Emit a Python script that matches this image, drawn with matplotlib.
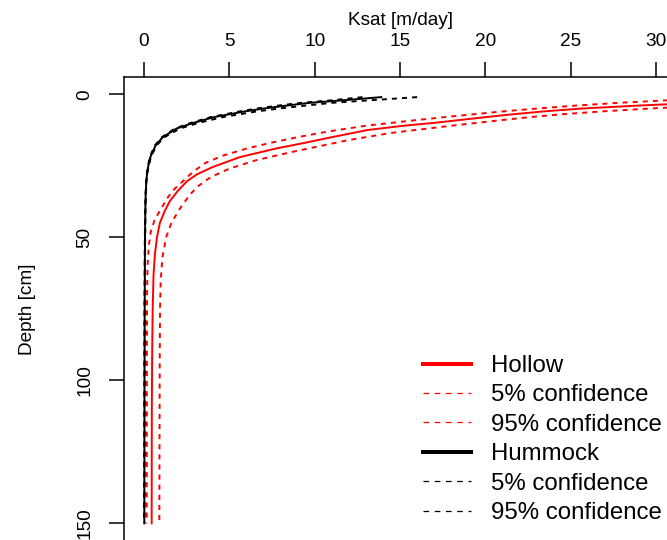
import numpy as np
import matplotlib
matplotlib.use("Agg")
import matplotlib.pyplot as plt
from matplotlib.lines import Line2D

plt.rcParams['font.family'] = ['Liberation Sans', 'DejaVu Sans']

# --- values (depth [cm], Ksat [m/day]) ---
hollow_depth = [1, 2, 3, 4, 5, 6, 7, 8, 9, 10, 11, 12.5, 15, 17, 19, 22, 25.5, 28, 30.5,
                34, 37.5, 41, 45, 50, 56, 63, 75, 90, 110, 130, 150]
hollow_k = [42, 36, 32.5, 28.8, 25.6, 23.4, 21.6, 20.0, 18.5, 17.0, 15.2, 13.1, 11.0, 9.4, 7.7,
            5.6, 4.0, 3.1, 2.5, 1.95, 1.5, 1.2, 0.93, 0.76, 0.64, 0.56, 0.51, 0.48, 0.46, 0.455, 0.45]

hollow_lo_depth = [1, 2, 3, 4, 5, 6, 7, 8, 9, 10, 11, 13, 15, 17, 19, 21.5, 24, 27, 30,
                   33, 36, 40, 44, 48, 53, 60, 70, 90, 120, 150]
hollow_lo_k = [36, 31, 27.8, 25.2, 23.0, 21.0, 19.3, 17.6, 16.0, 14.5, 13.0, 10.8, 9.0, 7.4, 6.0,
               4.6, 3.6, 2.9, 2.35, 1.8, 1.4, 1.0, 0.62, 0.4, 0.28, 0.21, 0.18, 0.17, 0.165, 0.16]

hollow_hi_depth = [1, 2, 3, 4, 5, 6, 7, 8, 9, 10, 11, 12, 13.5, 16, 18, 20, 23, 26, 29,
                   32, 35, 40, 45, 50, 57, 65, 75, 95, 120, 150]
hollow_hi_k = [50, 42, 37, 33, 29.6, 26.8, 24.5, 22.6, 21.0, 19.5, 18.0, 16.6, 14.5, 12.0, 10.4,
               8.8, 6.6, 5.0, 3.9, 3.2, 2.7, 2.1, 1.6, 1.3, 1.08, 0.98, 0.94, 0.92, 0.91, 0.9]

hummock_depth = [1, 2, 3, 4, 5, 6, 8, 10, 12, 15, 18, 22, 26, 30, 35, 40, 50, 60, 75, 100, 125, 150]
hummock_k = [13.9, 11.9, 9.7, 8.3, 7.0, 5.9, 4.1, 2.9, 1.9, 1.1, 0.67, 0.37, 0.22, 0.14, 0.10,
             0.08, 0.06, 0.05, 0.04, 0.03, 0.025, 0.02]
hummock_lo_k = [12.8, 11.2, 9.2, 7.8, 6.6, 5.6, 3.9, 2.75, 1.8, 1.05, 0.62, 0.34, 0.20, 0.13, 0.09,
                0.07, 0.05, 0.04, 0.03, 0.02, 0.015, 0.01]
hummock_hi_k = [16.0, 13.5, 11.0, 9.4, 7.9, 6.6, 4.6, 3.2, 2.1, 1.2, 0.72, 0.40, 0.24, 0.15, 0.11,
                0.09, 0.07, 0.06, 0.05, 0.04, 0.035, 0.03]

legend_labels = ["Hollow", "5% confidence", "95% confidence",
                 "Hummock", "5% confidence", "95% confidence"]
x_ticks = [0, 5, 10, 15, 20, 25, 30]
y_ticks = [0, 50, 100, 150]

W, H = 667, 540
fig = plt.figure(figsize=(W / 100, H / 100), dpi=100)
# plot region runs past the right and bottom edges, as in the cropped original
x0, x1 = 123.5, 676.6
y_top, y_bot = 77.1, 540.5
ax = fig.add_axes([x0 / W, (H - y_bot) / H, (x1 - x0) / W, (y_bot - y_top) / H])
ax.set_xlim(-1.2, 31.2)
ax.set_ylim(156, -6)

dash = (0, (2.6, 2.6))
lw = 1.4
ax.plot(hollow_k, hollow_depth, color='red', lw=lw)
ax.plot(hollow_lo_k, hollow_lo_depth, color='red', lw=lw, linestyle=dash)
ax.plot(hollow_hi_k, hollow_hi_depth, color='red', lw=lw, linestyle=dash)
ax.plot(hummock_k, hummock_depth, color='black', lw=lw)
ax.plot(hummock_lo_k, hummock_depth, color='black', lw=lw, linestyle=dash)
ax.plot(hummock_hi_k, hummock_depth, color='black', lw=lw, linestyle=dash)

for s in ['right', 'bottom']:
    ax.spines[s].set_visible(False)
for s in ['left', 'top']:
    ax.spines[s].set_linewidth(1.1)

ax.xaxis.tick_top()
ax.xaxis.set_label_position('top')
ax.set_xticks(x_ticks)
ax.set_yticks(y_ticks)
ax.set_yticklabels([str(v) for v in y_ticks], rotation=90, va='center')
ax.tick_params(axis='both', length=10.5, width=1.1, labelsize=13.7, pad=9)
ax.tick_params(axis='y', pad=11)
ax.set_xlabel("Ksat [m/day]", fontsize=13.7, labelpad=6)
ax.set_ylabel("Depth [cm]", fontsize=13.7, labelpad=29.5)

handles = [
    Line2D([], [], color='red', lw=2.9),
    Line2D([], [], color='red', lw=0.9, linestyle=(0, (4.5, 4.5))),
    Line2D([], [], color='red', lw=0.9, linestyle=(0, (4.5, 4.5))),
    Line2D([], [], color='black', lw=2.9),
    Line2D([], [], color='black', lw=0.9, linestyle=(0, (4.5, 4.5))),
    Line2D([], [], color='black', lw=0.9, linestyle=(0, (4.5, 4.5))),
]
fig.legend(handles, legend_labels, loc='upper left', bbox_to_anchor=(423 / W, 1 - 355 / H),
           frameon=False, fontsize=17.3, handlelength=2.0, handletextpad=0.85,
           borderpad=0, borderaxespad=0, labelspacing=0.31)

fig.savefig("out.png", dpi=100)
